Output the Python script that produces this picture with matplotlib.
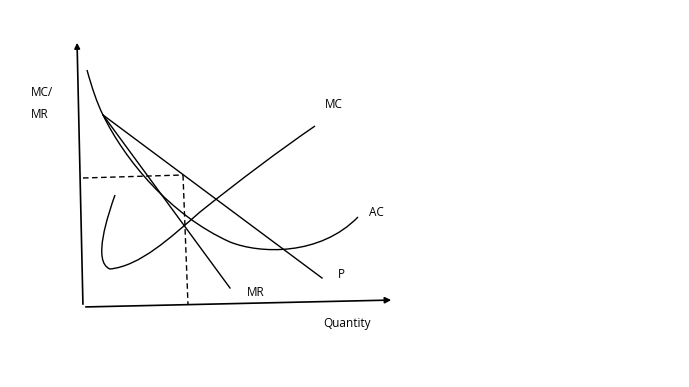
import matplotlib
matplotlib.use("Agg")
import matplotlib.pyplot as plt
from matplotlib.path import Path
from matplotlib.patches import PathPatch

# diagram drawn in pixel space (x right, y down)
origin = (83, 307)
y_tip = (77, 40)
x_tip = (394, 300)

# bezier control points for the curves
ac_pts = [(87, 70), (92, 88), (97, 103), (103, 115),
          (125, 160), (170, 215), (230, 242),
          (260, 254), (320, 256), (358, 217)]
mc_pts = [(115, 195), (108, 215), (92, 262), (110, 269),
          (140, 266), (170, 238), (200, 212),
          (240, 180), (280, 150), (315, 126)]

# straight lines
p_line = [(103, 115), (322, 278)]
mr_line = [(103, 115), (230, 288)]

# dashed guides
h_dash = [(83, 178), (183, 175)]
v_dash = [(183, 175), (188, 305)]

labels = ["MC/\nMR", "MC", "AC", "P", "MR", "Quantity"]
label_pos = [(31, 104), (325, 105), (369, 213), (338, 275), (247, 292), (323, 324)]

fig = plt.figure(figsize=(6.89, 3.87), dpi=100)
ax = fig.add_axes([0, 0, 1, 1])
ax.set_xlim(0, 689)
ax.set_ylim(387, 0)
ax.axis("off")

lw = 1.0

# axes arrows
ax.annotate("", xy=y_tip, xytext=origin,
            arrowprops=dict(arrowstyle="-|>", color="black", lw=1.2, mutation_scale=8))
ax.annotate("", xy=x_tip, xytext=origin,
            arrowprops=dict(arrowstyle="-|>", color="black", lw=1.2, mutation_scale=9))

ac_codes = [Path.MOVETO] + [Path.CURVE4] * (len(ac_pts) - 1)
mc_codes = [Path.MOVETO] + [Path.CURVE4] * (len(mc_pts) - 1)
ax.add_patch(PathPatch(Path(ac_pts, ac_codes), fill=False, lw=lw, color="black"))
ax.add_patch(PathPatch(Path(mc_pts, mc_codes), fill=False, lw=lw, color="black"))

for seg in [p_line, mr_line]:
    ax.plot([seg[0][0], seg[1][0]], [seg[0][1], seg[1][1]], color="black", lw=lw)
for seg in [h_dash, v_dash]:
    ax.plot([seg[0][0], seg[1][0]], [seg[0][1], seg[1][1]], color="black",
            lw=lw, linestyle=(0, (4, 2.5)))

for txt, (x, y) in zip(labels, label_pos):
    ax.text(x, y, txt, fontsize=8.5, family="Open Sans", ha="left", va="center",
            linespacing=1.9)

plt.savefig("out.png", dpi=100)
plt.close()
